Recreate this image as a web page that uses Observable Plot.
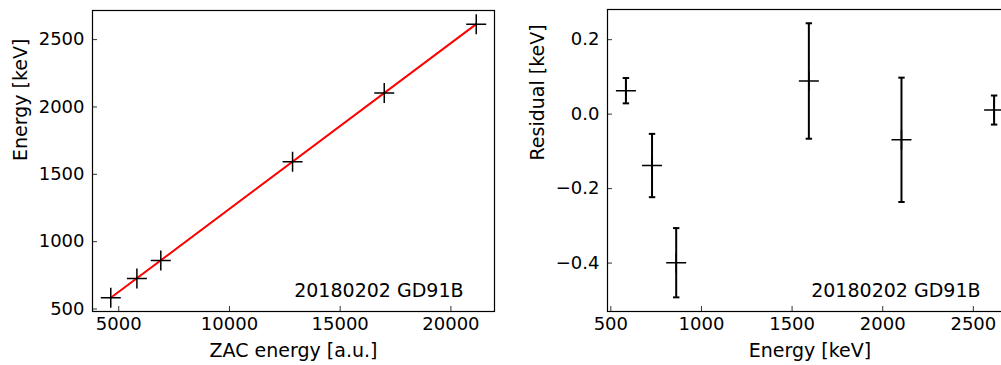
<!DOCTYPE html>
<html>
<head>
<meta charset="utf-8">
<script src="https://cdn.jsdelivr.net/npm/d3@7"></script>
<script src="https://cdn.jsdelivr.net/npm/@observablehq/plot@0.6"></script>
<style>
html, body { margin: 0; padding: 0; background: #fff; overflow: hidden; width: 1001px; height: 365px; }
#wrap { position: relative; width: 1001px; height: 365px; overflow: hidden; }
#left, #right { position: absolute; top: 0; height: 365px; }
#left { left: 0; width: 500px; }
#right { left: 500px; width: 520px; }
svg { font-family: "DejaVu Sans", sans-serif; max-width: none !important; }
</style>
</head>
<body>
<div id="wrap"><div id="left"></div><div id="right"></div></div>
<script>
// ---- Data ----
const peakEnergy = [583.2, 727.3, 860.6, 1592.5, 2103.5, 2614.5];      // keV
const zacEnergy  = [4640, 5820, 6900, 12850, 16990, 21144];             // a.u.
const fitZac     = [4640, 21144];                                       // fit line endpoints (a.u.)
const fitEnergy  = [583.2, 2614.5];                                     // fit line endpoints (keV)
const residual   = [0.063, -0.138, -0.399, 0.089, -0.069, 0.011];       // keV
const residErr   = [0.034, 0.085, 0.093, 0.155, 0.167, 0.039];         // keV
const leftXTicks = [5000, 10000, 15000, 20000];
const leftYTicks = [500, 1000, 1500, 2000, 2500];
const rightXTicks = [500, 1000, 1500, 2000, 2500];
const rightYTicks = [-0.4, -0.2, 0.0, 0.2];
const tagText = "20180202 GD91B";

const calib = peakEnergy.map((e, i) => ({zac: zacEnergy[i], energy: e}));
const fitLine = fitZac.map((z, i) => ({zac: z, energy: fitEnergy[i]}));
const resid = peakEnergy.map((e, i) => ({energy: e, r: residual[i], lo: residual[i] - residErr[i], hi: residual[i] + residErr[i]}));

// custom symbols drawn as strokes
const plusSym = {draw(ctx, size) { const r = Math.sqrt(size / Math.PI); ctx.moveTo(-r, 0); ctx.lineTo(r, 0); ctx.moveTo(0, -r); ctx.lineTo(0, r); }};
const hSym = {draw(ctx, size) { const r = Math.sqrt(size / Math.PI); ctx.moveTo(-r, 0); ctx.lineTo(r, 0); }};

const H = 365, MT = 10, MB = 54;
const innerH = H - MT - MB;
const FS = 18;   // tick labels
const LFS = 19;  // axis labels and tag

// ---- Left panel ----
{
  const W = 500, ML = 92, MR = 6;
  const innerW = W - ML - MR;
  const p = Plot.plot({
    width: W, height: H, marginLeft: ML, marginRight: MR, marginTop: MT, marginBottom: MB,
    style: {fontFamily: "DejaVu Sans, sans-serif", fontSize: FS + "px", color: "black", background: "white", overflow: "visible"},
    x: {domain: [3815, 21969]},
    y: {domain: [481.6, 2716]},
    marks: [
      Plot.axisX(leftXTicks, {tickSize: 0, tickPadding: 6, label: null, fontSize: FS, tickFormat: d => String(d)}),
      Plot.axisY(leftYTicks, {tickSize: 0, tickPadding: 8, label: null, fontSize: FS, tickFormat: d => String(d)}),
      Plot.ruleX(leftXTicks, {x: d => d, insetTop: innerH - 5, stroke: "#333", strokeWidth: 1}),
      Plot.ruleY(leftYTicks, {y: d => d, insetRight: innerW - 5, stroke: "#333", strokeWidth: 1}),
      Plot.line(fitLine, {x: "zac", y: "energy", stroke: "#ff0000", strokeWidth: 2}),
      Plot.dot(calib, {x: "zac", y: "energy", symbol: plusSym, r: 10, stroke: "black", fill: "none", strokeWidth: 1.5}),
      Plot.text([tagText], {frameAnchor: "bottom-right", textAnchor: "end", lineAnchor: "middle", dx: -31, dy: -21, fontSize: LFS, fill: "black"}),
      Plot.text(["ZAC energy [a.u.]"], {frameAnchor: "bottom", lineAnchor: "middle", dy: 39, fontSize: LFS, fill: "black"}),
      Plot.text(["Energy [keV]"], {frameAnchor: "left", rotate: -90, lineAnchor: "middle", dx: -72, fontSize: LFS, fill: "black"}),
      Plot.frame({stroke: "black", strokeWidth: 1.2})
    ]
  });
  document.getElementById("left").appendChild(p);
}

// ---- Right panel ----
{
  const W = 520, ML = 107, MR = 8, MTR = MT - 1;
  const innerW = W - ML - MR;
  const innerHR = H - MTR - MB;
  const fmt = d => (d < 0 ? "\u2212" + Math.abs(d).toFixed(1) : d.toFixed(1));
  const p = Plot.plot({
    width: W, height: H, marginLeft: ML, marginRight: MR, marginTop: MTR, marginBottom: MB,
    style: {fontFamily: "DejaVu Sans, sans-serif", fontSize: FS + "px", color: "black", background: "white", overflow: "visible"},
    x: {domain: [481.6, 2716]},
    y: {domain: [-0.53, 0.281]},
    marks: [
      Plot.axisX(rightXTicks, {tickSize: 0, tickPadding: 6, label: null, fontSize: FS, tickFormat: d => String(d)}),
      Plot.axisY(rightYTicks, {tickSize: 0, tickPadding: 8, label: null, fontSize: FS, tickFormat: fmt}),
      Plot.ruleX(rightXTicks, {x: d => d, insetTop: innerHR - 5, stroke: "#333", strokeWidth: 1}),
      Plot.ruleY(rightYTicks, {y: d => d, insetRight: innerW - 5, stroke: "#333", strokeWidth: 1}),
      Plot.ruleX(resid, {x: "energy", y1: "lo", y2: "hi", stroke: "black", strokeWidth: 2}),
      Plot.dot(resid, {x: "energy", y: "lo", symbol: hSym, r: 3.2, stroke: "black", fill: "none", strokeWidth: 2}),
      Plot.dot(resid, {x: "energy", y: "hi", symbol: hSym, r: 3.2, stroke: "black", fill: "none", strokeWidth: 2}),
      Plot.dot(resid, {x: "energy", y: "r", symbol: plusSym, r: 10, stroke: "black", fill: "none", strokeWidth: 1.5}),
      Plot.text([tagText], {frameAnchor: "bottom-right", textAnchor: "end", lineAnchor: "middle", dx: -32, dy: -21, fontSize: LFS, fill: "black"}),
      Plot.text(["Energy [keV]"], {frameAnchor: "bottom", lineAnchor: "middle", dy: 39, fontSize: LFS, fill: "black"}),
      Plot.text(["Residual [keV]"], {frameAnchor: "left", rotate: -90, lineAnchor: "middle", dx: -70, fontSize: LFS, fill: "black"}),
      Plot.frame({stroke: "black", strokeWidth: 1.2})
    ]
  });
  document.getElementById("right").appendChild(p);
}
</script>
</body>
</html>
